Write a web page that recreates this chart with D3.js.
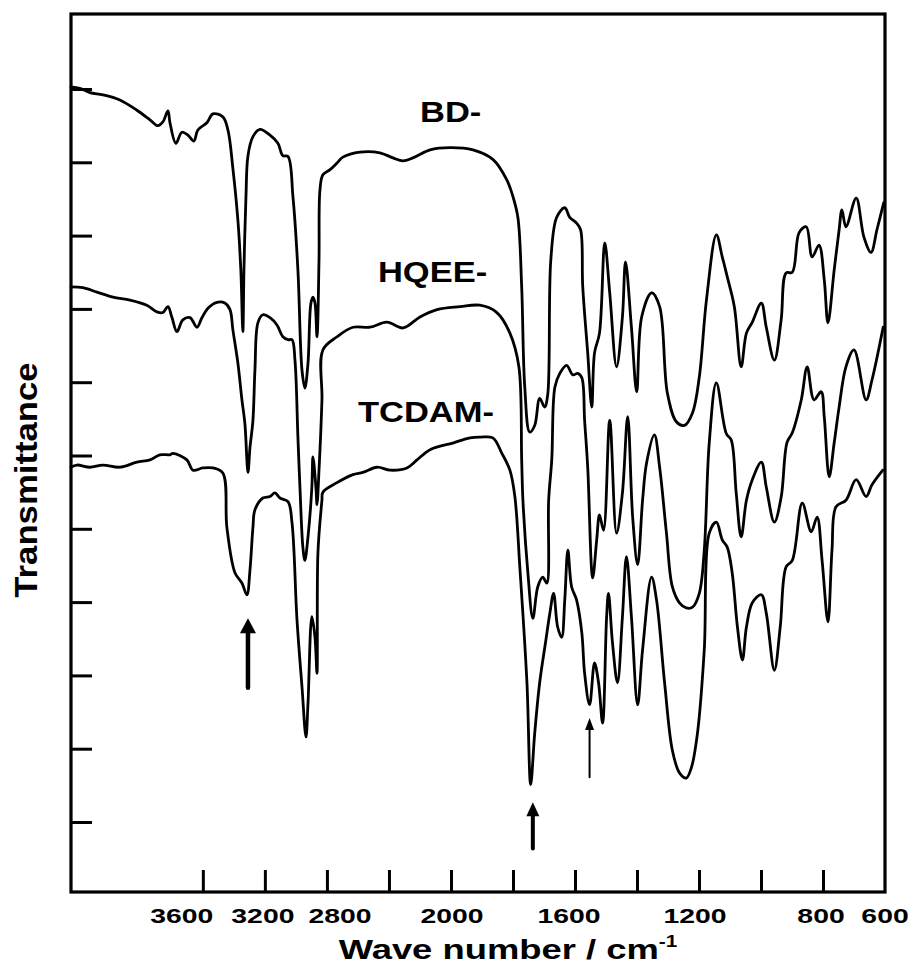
<!DOCTYPE html>
<html>
<head>
<meta charset="utf-8">
<script src="https://cdn.jsdelivr.net/npm/d3@7"></script>
<style>
  body { margin: 0; background: #fff; }
  svg text { font-family: "Liberation Sans", Arial, Helvetica, sans-serif; font-weight: bold; fill: #000; }
</style>
</head>
<body>
<svg id="chart" width="915" height="968"></svg>
<script>
// [wave number (cm-1), transmittance (arbitrary, 1 unit = 1 tick)]
const bdSpectrum = [
  [4450,11.03],[4393,11.01],[4328,10.95],[4245,10.92],[4135,10.85],[4025,10.71],[3941,10.58],[3890,10.50],
  [3858,10.55],[3825,10.70],[3812,10.54],[3774,10.26],[3735,10.41],[3696,10.37],[3658,10.29],[3632,10.44],
  [3574,10.54],[3535,10.66],[3471,10.62],[3438,10.44],[3406,9.91],[3374,9.21],[3355,8.53],[3342,7.69],
  [3335,8.53],[3322,9.53],[3309,10.09],[3277,10.35],[3232,10.45],[3167,10.37],[3116,10.26],[3084,10.09],
  [3051,10.08],[3019,9.53],[2987,8.53],[2961,7.17],[2942,6.92],[2922,7.26],[2903,8.08],[2890,8.16],
  [2877,8.08],[2864,7.62],[2851,8.67],[2845,9.62],[2826,9.83],[2780,9.90],[2735,9.99],[2697,10.07],
  [2587,10.14],[2458,10.13],[2374,10.06],[2310,10.02],[2245,10.06],[2135,10.17],[2006,10.20],[1929,10.17],
  [1865,10.04],[1820,9.76],[1800,9.53],[1784,9.24],[1772,8.30],[1762,6.93],[1746,6.32],[1730,6.41],
  [1714,6.78],[1698,6.66],[1688,6.83],[1678,8.67],[1659,9.25],[1633,9.38],[1617,9.25],[1595,9.17],
  [1582,9.08],[1575,8.30],[1559,7.40],[1546,6.66],[1537,7.40],[1521,7.67],[1504,8.90],[1488,8.22],
  [1466,7.21],[1447,7.89],[1437,8.64],[1418,7.75],[1401,6.87],[1385,7.89],[1353,8.22],[1327,8.03],
  [1302,6.85],[1273,6.46],[1247,6.41],[1221,6.58],[1199,7.07],[1176,8.12],[1144,9.01],[1125,8.71],
  [1109,8.44],[1086,8.03],[1064,7.21],[1047,7.67],[1028,7.82],[999,8.08],[983,7.75],[957,7.30],
  [935,7.85],[919,8.49],[899,8.50],[877,9.04],[854,9.12],[835,8.71],[813,8.87],[796,8.40],
  [784,7.81],[764,8.53],[748,9.08],[739,9.35],[726,9.12],[693,9.51],[668,8.98],[645,8.77],
  [626,9.08],[604,9.45]
];

const hqeeSpectrum = [
  [4450,8.30],[4374,8.29],[4283,8.23],[4180,8.16],[4070,8.12],[3961,8.05],[3896,7.96],[3858,7.95],
  [3825,8.03],[3800,7.89],[3767,7.69],[3729,7.85],[3683,7.88],[3638,7.75],[3606,7.88],[3567,8.01],
  [3509,8.09],[3458,8.08],[3425,7.99],[3406,7.71],[3374,7.26],[3348,6.76],[3329,6.44],[3309,5.77],
  [3296,6.11],[3277,6.48],[3264,7.17],[3245,7.81],[3213,7.92],[3167,7.88],[3122,7.78],[3084,7.62],
  [3051,7.58],[3025,7.58],[3006,7.30],[2987,6.25],[2974,5.57],[2955,4.75],[2942,4.57],[2922,4.89],
  [2897,5.57],[2890,5.98],[2871,5.57],[2864,5.33],[2851,5.80],[2832,6.76],[2826,7.44],[2735,7.62],
  [2632,7.75],[2522,7.75],[2413,7.82],[2310,7.74],[2200,7.89],[2090,7.99],[1971,8.03],[1907,8.05],
  [1852,7.95],[1810,7.67],[1781,7.21],[1772,5.94],[1768,5.39],[1752,4.40],[1736,3.78],[1720,4.21],
  [1704,4.34],[1691,4.26],[1685,5.39],[1675,5.94],[1665,6.93],[1649,7.12],[1627,7.23],[1607,7.10],
  [1591,7.12],[1578,7.06],[1569,6.48],[1559,5.84],[1543,4.33],[1530,4.85],[1521,5.19],[1508,4.98],
  [1488,6.48],[1466,4.94],[1447,5.49],[1430,6.53],[1414,5.16],[1398,4.51],[1382,5.39],[1369,5.90],
  [1344,6.28],[1327,5.84],[1305,4.94],[1286,4.21],[1263,3.99],[1241,3.92],[1221,3.93],[1199,4.12],
  [1183,4.71],[1167,6.17],[1144,6.99],[1112,6.30],[1096,6.21],[1080,5.49],[1064,4.89],[1047,5.39],
  [1028,5.67],[999,5.91],[983,5.57],[957,5.09],[935,5.43],[916,6.18],[899,6.31],[870,6.76],
  [851,7.21],[829,6.76],[806,6.87],[796,6.53],[780,5.71],[764,6.17],[748,6.66],[726,7.21],
  [700,7.44],[661,6.76],[642,7.03],[606,7.75]
];

const tcdamSpectrum = [
  [4450,5.84],[4412,5.87],[4328,5.84],[4245,5.87],[4135,5.84],[4025,5.91],[3941,5.94],[3877,6.01],
  [3812,6.01],[3793,6.03],[3703,5.94],[3664,5.80],[3600,5.83],[3535,5.83],[3471,5.76],[3445,5.02],
  [3393,4.40],[3348,4.26],[3316,4.10],[3296,4.44],[3277,5.02],[3264,5.26],[3213,5.42],[3167,5.44],
  [3135,5.49],[3103,5.42],[3051,5.37],[3025,5.08],[2993,3.76],[2961,2.85],[2935,2.16],[2922,2.62],
  [2897,3.80],[2877,3.52],[2864,3.03],[2858,4.67],[2832,5.39],[2826,5.50],[2735,5.63],[2632,5.74],
  [2568,5.77],[2477,5.84],[2393,5.80],[2284,5.83],[2219,5.94],[2135,6.08],[1994,6.17],[1939,6.24],
  [1907,6.25],[1865,6.24],[1836,6.03],[1810,5.80],[1794,5.44],[1778,4.48],[1755,2.90],[1743,1.51],
  [1730,2.21],[1714,2.90],[1694,3.48],[1681,3.85],[1669,4.12],[1656,3.66],[1643,3.52],[1633,4.03],
  [1623,4.71],[1611,4.21],[1595,4.03],[1578,3.58],[1569,3.03],[1553,2.60],[1537,3.17],[1524,2.90],
  [1511,2.35],[1498,3.80],[1492,4.12],[1479,3.44],[1463,2.90],[1447,3.80],[1434,4.62],[1418,3.80],
  [1398,2.60],[1382,3.35],[1353,4.34],[1337,4.03],[1311,2.90],[1286,1.98],[1263,1.67],[1241,1.60],
  [1224,1.75],[1205,2.21],[1183,3.35],[1167,4.94],[1144,5.09],[1125,4.85],[1109,4.75],[1093,4.40],
  [1076,3.66],[1060,3.21],[1047,3.66],[1028,3.99],[999,4.10],[983,3.85],[957,3.07],[938,3.66],
  [919,4.48],[899,4.57],[867,5.35],[838,4.96],[819,5.16],[803,4.57],[784,3.73],[771,4.71],
  [758,5.30],[726,5.39],[693,5.67],[661,5.44],[642,5.60],[607,5.80]
];

const seriesNames = ["BD-", "HQEE-", "TCDAM-"];
const labelWaves = [2200, 2471, 2600];
const labelLevels = [10.55, 8.37, 6.46];

const xTickValues = [3600, 3200, 2800, 2400, 2000, 1800, 1600, 1400, 1200, 1000, 800];
const xTickLabels = [3600, 3200, 2800, 2000, 1600, 1200, 800, 600];
const yTickValues = [1, 2, 3, 4, 5, 6, 7, 8, 9, 10, 11];

// marker arrows under the bands of interest
const arrowWaves = [3309, 1736, 1553];
const arrowTips = [3.78, 1.27, 2.42];
const arrowTails = [2.83, 0.64, 1.61];

// ---- layout ----
const svg = d3.select("#chart");
const frame = { left: 71, right: 885, top: 14, bottom: 892 };

// IR spectra: scale doubles below 2000 cm-1
const x = d3.scaleLinear().domain([4450, 2000, 600]).range([frame.left, 451, frame.right]);
const y = d3.scaleLinear().domain([0, 12]).range([895.3, 15.7]);

svg.append("rect").attr("width", 915).attr("height", 968).attr("fill", "#fff");

// inward ticks
const xAxis = svg.append("g")
  .attr("transform", `translate(0,${frame.bottom})`)
  .call(d3.axisBottom(x).tickValues(xTickValues).tickSizeInner(-22).tickSizeOuter(0).tickFormat(""));
xAxis.select(".domain").remove();
xAxis.selectAll(".tick line").attr("stroke", "#000").attr("stroke-width", 3);

const yAxis = svg.append("g")
  .attr("transform", `translate(${frame.left},0)`)
  .call(d3.axisLeft(y).tickValues(yTickValues).tickSizeInner(-21).tickSizeOuter(0).tickFormat(""));
yAxis.select(".domain").remove();
yAxis.selectAll(".tick line").attr("stroke", "#000").attr("stroke-width", 3);

// frame
svg.append("rect")
  .attr("x", frame.left).attr("y", frame.top)
  .attr("width", frame.right - frame.left).attr("height", frame.bottom - frame.top)
  .attr("fill", "none").attr("stroke", "#000").attr("stroke-width", 3.2);

// tick labels (the typeset labels sit a bit off some ticks)
const labelNudge = { 3600: -21, 3200: -2, 2800: 13, 2000: 1, 1600: -6, 1200: -4, 800: -2, 600: 0 };
svg.append("g").selectAll("g")
  .data(xTickLabels)
  .join("g")
  .attr("transform", d => `translate(${x(d) + labelNudge[d]},923) scale(1.35,1)`)
  .append("text")
  .attr("text-anchor", "middle")
  .attr("font-size", 21)
  .text(d => d);

// axis titles
const xt = svg.append("g").attr("transform", "translate(508,959) scale(1.3,1)")
  .append("text").attr("text-anchor", "middle").attr("font-size", 28);
xt.append("tspan").text("Wave number / cm");
xt.append("tspan").attr("font-size", 16).attr("dy", -12).text("-1");

svg.append("g").attr("transform", "translate(37,480) rotate(-90) scale(1.12,1)")
  .append("text").attr("text-anchor", "middle").attr("font-size", 31)
  .text("Transmittance");

// spectra
const line = d3.line()
  .x(d => x(d[0]))
  .y(d => y(d[1]))
  .curve(d3.curveCatmullRom.alpha(0.5));
svg.append("g").selectAll("path")
  .data([bdSpectrum, hqeeSpectrum, tcdamSpectrum])
  .join("path")
  .attr("d", line)
  .attr("fill", "none")
  .attr("stroke", "#000")
  .attr("stroke-width", 2.8)
  .attr("stroke-linejoin", "round")
  .attr("stroke-linecap", "round");

// series labels
svg.append("g").selectAll("g")
  .data(seriesNames)
  .join("g")
  .attr("transform", (d, i) => `translate(${x(labelWaves[i])},${y(labelLevels[i])}) scale(1.15,1)`)
  .append("text")
  .attr("font-size", 30)
  .text(d => d);

// arrows
const arrowStyle = [
  { head: 15, half: 8, width: 4.5 },
  { head: 14, half: 6.5, width: 4 },
  { head: 12, half: 4.5, width: 2 }
];
arrowWaves.forEach((w, i) => {
  const s = arrowStyle[i];
  const ax = x(w), tip = y(arrowTips[i]), tail = y(arrowTails[i]);
  svg.append("line")
    .attr("x1", ax).attr("x2", ax)
    .attr("y1", tail).attr("y2", tip + s.head - 2)
    .attr("stroke", "#000").attr("stroke-width", s.width).attr("stroke-linecap", "round");
  svg.append("path")
    .attr("d", `M${ax},${tip} L${ax - s.half},${tip + s.head} L${ax + s.half},${tip + s.head} Z`)
    .attr("fill", "#000");
});
</script>
</body>
</html>
